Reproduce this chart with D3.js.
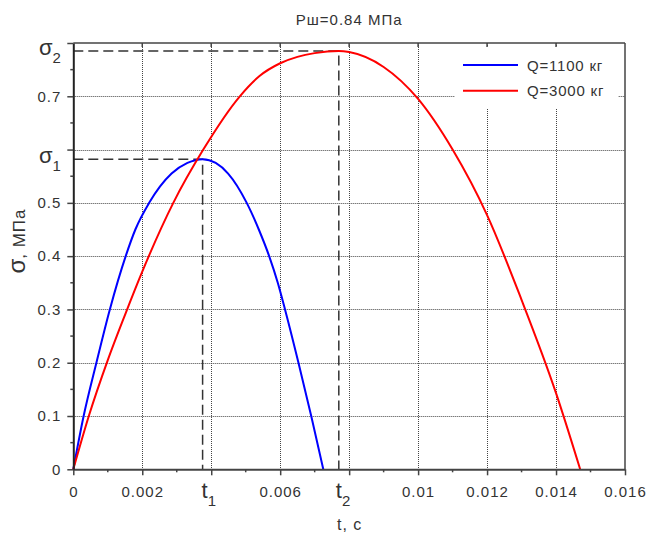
<!DOCTYPE html>
<html>
<head>
<meta charset="utf-8">
<script src="https://cdn.jsdelivr.net/npm/d3@7"></script>
<style>
body { margin: 0; background: #fff; }
text { font-family: "Liberation Sans", Arial, sans-serif; }
</style>
</head>
<body>
<script>
const width = 647;
const height = 533;

// data: time (s) and stress (MPa)
const blueT = [0, 0.0003, 0.00067, 0.00106, 0.00152, 0.0018, 0.0022, 0.00285, 0.00331, 0.00375, 0.00413, 0.00449, 0.00503, 0.00538, 0.00568, 0.00593, 0.00614, 0.00653, 0.0069, 0.00725];
const blueS = [0, 0.1, 0.2, 0.3, 0.4, 0.45, 0.5, 0.555, 0.575, 0.582, 0.575, 0.555, 0.5, 0.45, 0.4, 0.35, 0.3, 0.2, 0.1, 0];
const redT = [0, 0.00045, 0.001, 0.0015, 0.002, 0.0029, 0.00377, 0.00483, 0.0054, 0.006, 0.0065, 0.007, 0.0077, 0.008, 0.009, 0.01, 0.011, 0.012, 0.013, 0.014, 0.0147];
const redS = [0, 0.1, 0.205, 0.29, 0.371, 0.5, 0.6, 0.7, 0.738, 0.762, 0.774, 0.781, 0.785, 0.783, 0.755, 0.695, 0.6, 0.477, 0.318, 0.143, 0];
const seriesNames = ["Q=1100 кг", "Q=3000 кг"];
const seriesColors = ["#0000ff", "#ff0000"];

const xTicks = [0, 0.002, 0.004, 0.006, 0.008, 0.01, 0.012, 0.014, 0.016];
const xLabels = ["0", "0.002", "", "0.006", "", "0.01", "0.012", "0.014", "0.016"];
const xMinor = [0.001, 0.003, 0.005, 0.007, 0.009, 0.011, 0.013, 0.015];
const yTicks = [0, 0.1, 0.2, 0.3, 0.4, 0.5, 0.6, 0.7, 0.8];
const yLabels = ["0", "0.1", "0.2", "0.3", "0.4", "0.5", "", "0.7", ""];
const yMinor = [0.05, 0.15, 0.25, 0.35, 0.45, 0.55, 0.65, 0.75];

const pLeft = 73.3, pRight = 625, pTop = 43, pBottom = 469.3;

const x = d3.scaleLinear().domain([0, 0.016]).range([pLeft, pRight]);
const y = d3.scaleLinear().domain([0, 0.8]).range([pBottom, pTop]);

const svg = d3.select("body").append("svg")
  .attr("width", width)
  .attr("height", height);

// grid
const grid = svg.append("g").attr("stroke", "#444").attr("stroke-width", 1).attr("stroke-dasharray", "1,1");
grid.selectAll(".gx").data(xTicks.slice(1, -1)).enter().append("line")
  .attr("x1", d => Math.round(x(d)) + 0.5).attr("x2", d => Math.round(x(d)) + 0.5)
  .attr("y1", pTop).attr("y2", pBottom);
grid.selectAll(".gy").data(yTicks.slice(1, -1)).enter().append("line")
  .attr("y1", d => Math.round(y(d)) + 0.5).attr("y2", d => Math.round(y(d)) + 0.5)
  .attr("x1", pLeft).attr("x2", pRight);

// peaks
const i1 = blueS.indexOf(d3.max(blueS));
const i2 = redS.indexOf(d3.max(redS));
const t1 = blueT[i1], s1 = blueS[i1];
const t2 = redT[i2], s2 = redS[i2];

// dashed guide lines
const guides = svg.append("g").attr("stroke", "#333").attr("stroke-width", 1.5)
  .attr("stroke-dasharray", "10,5").attr("fill", "none");
[[t1, s1], [t2, s2]].forEach(p => {
  guides.append("path")
    .attr("d", "M" + x(0) + "," + y(p[1]) + "H" + x(p[0]) + "V" + y(0));
});

// curves
const line = d3.line().x(d => x(d[0])).y(d => y(d[1])).curve(d3.curveMonotoneX);
const series = [d3.zip(blueT, blueS), d3.zip(redT, redS)];
svg.selectAll(".curve").data(series).enter().append("path")
  .attr("fill", "none")
  .attr("stroke", (d, i) => seriesColors[i])
  .attr("stroke-width", 2)
  .attr("d", line);

// legend
const lg = svg.append("g");
lg.append("rect").attr("x", 455).attr("y", 46).attr("width", 163).attr("height", 63).attr("fill", "#fff");
seriesNames.forEach((name, i) => {
  const ly = 65 + i * 25.7;
  lg.append("line").attr("x1", 463).attr("x2", 518).attr("y1", ly).attr("y2", ly)
    .attr("stroke", seriesColors[i]).attr("stroke-width", 2);
  lg.append("text").attr("x", 527).attr("y", ly + 5.5)
    .attr("font-size", 15).attr("letter-spacing", 0.8).attr("fill", "#333").text(name);
});

// frame
const frame = svg.append("g").attr("stroke", "#444").attr("fill", "none");
frame.append("line").attr("x1", pLeft).attr("x2", pRight).attr("y1", pTop).attr("y2", pTop).attr("stroke-width", 1.5);
frame.append("line").attr("x1", pRight).attr("x2", pRight).attr("y1", pTop).attr("y2", pBottom).attr("stroke-width", 1.5);
frame.selectAll(".tt").data(xTicks.slice(1, -1)).enter().append("line")
  .attr("x1", d => x(d)).attr("x2", d => x(d)).attr("y1", pTop).attr("y2", pTop + 4).attr("stroke-width", 1.5);

// x axis
const xAxis = svg.append("g")
  .attr("transform", "translate(0," + pBottom + ")")
  .call(d3.axisBottom(x).tickValues(xTicks).tickFormat((d, i) => xLabels[i]).tickSize(6).tickSizeOuter(0));
xAxis.select(".domain").attr("stroke", "#444").attr("stroke-width", 2);
xAxis.selectAll(".tick line").attr("stroke", "#444").attr("stroke-width", 1.5);
xAxis.selectAll("text").attr("font-size", 15).attr("letter-spacing", 1).attr("fill", "#333")
  .attr("font-family", "Liberation Sans, Arial, sans-serif").attr("dy", null).attr("y", 28);
xAxis.selectAll(".minor").data(xMinor).enter().append("line")
  .attr("x1", d => x(d)).attr("x2", d => x(d)).attr("y1", 0).attr("y2", 3)
  .attr("stroke", "#444").attr("stroke-width", 1.5);

// y axis
const yAxis = svg.append("g")
  .attr("transform", "translate(" + pLeft + ",0)")
  .call(d3.axisLeft(y).tickValues(yTicks).tickFormat((d, i) => yLabels[i]).tickSize(6).tickSizeOuter(0));
yAxis.select(".domain").attr("stroke", "#222").attr("stroke-width", 2);
yAxis.selectAll(".tick line").attr("stroke", "#444").attr("stroke-width", 1.5);
yAxis.selectAll("text").attr("font-size", 15).attr("letter-spacing", 1).attr("fill", "#333")
  .attr("font-family", "Liberation Sans, Arial, sans-serif").attr("x", -12);
yAxis.selectAll(".minor").data(yMinor).enter().append("line")
  .attr("y1", d => y(d)).attr("y2", d => y(d)).attr("x1", 0).attr("x2", -3)
  .attr("stroke", "#444").attr("stroke-width", 1.5);

// sigma / t markers
function subLabel(px, py, main, sub) {
  const t = svg.append("text").attr("x", px).attr("y", py).attr("fill", "#333");
  t.append("tspan").attr("font-size", 22).text(main);
  t.append("tspan").attr("font-size", 15).attr("dy", 8).text(sub);
}
subLabel(39, y(s2) + 4, "σ", "2");
subLabel(39, y(s1) + 4, "σ", "1");
subLabel(x(t1) - 1, 498, "t", "1");
subLabel(x(t2) - 3, 498, "t", "2");

// titles
svg.append("text").attr("x", (pLeft + pRight) / 2).attr("y", 25).attr("text-anchor", "middle")
  .attr("font-size", 15).attr("letter-spacing", 1).attr("fill", "#333").text("Рш=0.84 МПа");
svg.append("text").attr("x", 337).attr("y", 530)
  .attr("font-size", 16).attr("letter-spacing", 1).attr("fill", "#333").text("t, с");
const yl = svg.append("text").attr("transform", "translate(25,241) rotate(-90)")
  .attr("text-anchor", "middle").attr("fill", "#333");
yl.append("tspan").attr("font-size", 24).text("σ");
yl.append("tspan").attr("font-size", 17).attr("letter-spacing", 1).text(", МПа");
</script>
</body>
</html>
